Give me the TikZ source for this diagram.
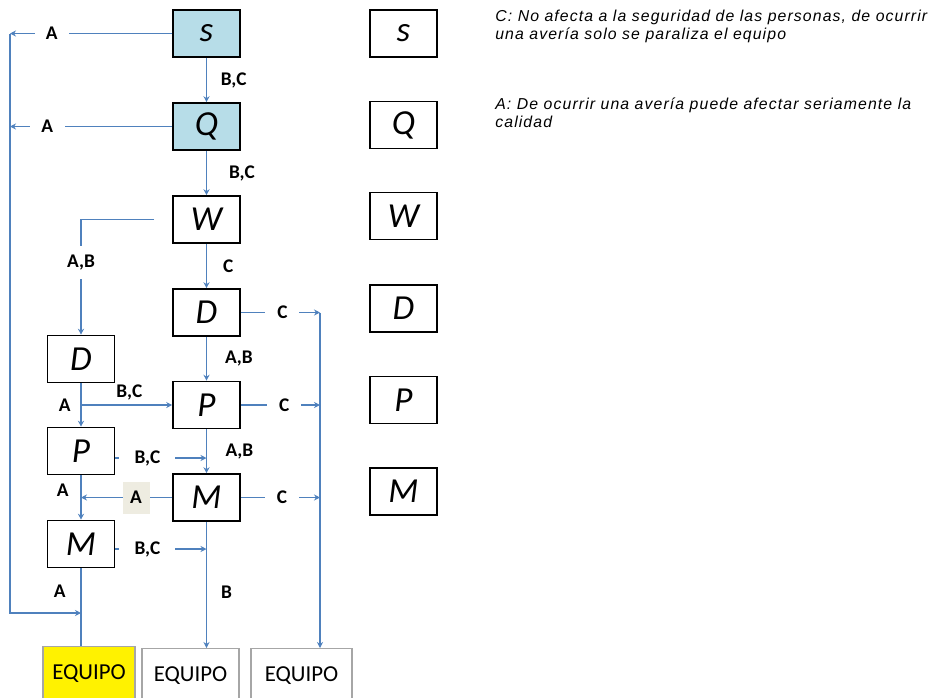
\documentclass[tikz,border=0pt]{standalone}
\usepackage{fontspec}
\setmainfont{Carlito}
\newfontfamily\legendfont{Liberation Sans}[LetterSpace=7]
\usetikzlibrary{arrows.meta,calc}

\definecolor{linkblue}{RGB}{79,129,189}
\definecolor{headfill}{RGB}{183,221,232}
\definecolor{tagfill}{RGB}{238,236,225}
\definecolor{framegray}{RGB}{166,166,166}

\tikzset{
  unitbox/.style={draw=black, line width=0.9pt, minimum width=1.34cm,
    minimum height=0.94cm, inner sep=0pt,
    font=\fontsize{20}{22}\selectfont\itshape},
  headbox/.style={unitbox, fill=headfill},
  outbox/.style={draw=framegray, line width=0.7pt, anchor=north,
    minimum height=1.06cm, inner sep=0pt, font=\fontsize{13}{15}\selectfont},
  link/.style={draw=linkblue, line width=0.85pt},
  flow/.style={link, -{Stealth[length=3.4pt,width=3.4pt]}},
  tag/.style={font=\fontsize{11}{12}\selectfont\bfseries, inner sep=1pt, text=black},
  gaptag/.style={tag, fill=white, minimum height=0.4cm},
  note/.style={anchor=north west, inner sep=0pt, align=left,
    font=\legendfont\itshape\fontsize{9}{10.2}\selectfont},
}

\begin{document}
\begin{tikzpicture}[x=0.02cm,y=-0.02cm]
\useasboundingbox (0,0) rectangle (937,697);

% main column
\node[headbox] (s)  at (206.5,33.5)  {s};
\node[headbox] (q)  at (206.5,126.5) {Q};
\node[unitbox] (w)  at (206.5,219.5) {W};
\node[unitbox] (dm) at (206.5,312.5) {D};
\node[unitbox] (pm) at (206.5,405)   {P};
\node[unitbox] (mm) at (206.5,497.5) {M};

% left column
\node[unitbox] (dl) at (81,359) {D};
\node[unitbox] (pl) at (81,451) {P};
\node[unitbox] (ml) at (81,544) {M};

% key column
\node[unitbox] (rs) at (403.5,33.5)  {s};
\node[unitbox] (rq) at (403.5,125)   {Q};
\node[unitbox] (rw) at (403.5,216)   {W};
\node[unitbox] (rd) at (403.5,308.5) {D};
\node[unitbox] (rp) at (403.5,400)   {P};
\node[unitbox] (rm) at (403.5,491.5) {M};

% equipment boxes
\node[outbox, fill=yellow, minimum width=1.84cm] (e1) at (89,646)    {EQUIPO};
\node[outbox, fill=white,  minimum width=1.94cm] (e2) at (190.5,648) {EQUIPO};
\node[outbox, fill=white,  minimum width=2.02cm] (e3) at (301.5,648) {EQUIPO};

% notes
\node[note] (noteC) at (495,10)
  {C: No afecta a la seguridad de las personas, de ocurrir\\una avería solo se paraliza el equipo};
\node[note] (noteA) at (495,98)
  {A: De ocurrir una avería puede afectar seriamente la\\calidad};

% junction points
\coordinate (rS)  at (10,33.5);
\coordinate (rQ)  at (10,126.5);
\coordinate (jR)  at (81,613);
\coordinate (r3)  at (320,312.5);
\coordinate (jP)  at (206.5,458);
\coordinate (jMl) at (206.5,549);
\coordinate (jD)  at (dl.south |- pm.west);
\coordinate (jM)  at (pl.south |- mm.west);

% main column flow
\draw[flow] (s.south) -- node[tag, anchor=west, xshift=0.235cm]{B,C} (q.north);
\draw[flow] (q.south) -- node[tag, anchor=west, xshift=0.4cm]{B,C} (w.north);
\draw[flow] (w.south) -- node[tag, anchor=west, xshift=0.28cm]{C} (dm.north);
\draw[flow] (dm.south) -- node[tag, anchor=west, xshift=0.32cm]{A,B} (pm.north);
\draw[flow] (pm.south) -- node[tag, anchor=west, xshift=0.33cm]{A,B} (mm.north);
\draw[flow] (mm.south) -- node[tag, anchor=west, xshift=0.24cm, pos=0.56]{B} (mm.south |- e2.north);

% left column flow
\draw[flow, shorten <=0.36cm] (w.west) -| node[gaptag, pos=0.687, minimum height=0.66cm]{A,B} (dl.north);
\draw[flow] (dl.south) -- node[tag, anchor=east, xshift=-0.16cm]{A} (pl.north);
\draw[flow] (pl.south) -- node[tag, anchor=east, xshift=-0.2cm, pos=0.33]{A} (ml.north);
\draw[link] (ml.south) -- node[tag, anchor=east, xshift=-0.26cm, pos=0.29]{A} (ml.south |- e1.north);

% cross links
\draw[flow] (jD) -- node[tag, above, yshift=1.5pt, pos=0.53]{B,C} (pm.west);
\draw[flow] (pl.east |- jP) -- node[gaptag, minimum width=1.12cm, pos=0.353]{B,C} (jP);
\draw[flow] (ml.east |- jMl) -- node[gaptag, minimum width=1.12cm, pos=0.353]{B,C} (jMl);
\draw[flow] (mm.west) -- node[tag, fill=tagfill, minimum width=0.54cm, minimum height=0.64cm, pos=0.397]{A} (jM);

% right rail
\draw[flow] (dm.east) -- node[gaptag, minimum width=0.68cm, pos=0.525]{C} (r3);
\draw[flow] (pm.east) -- node[gaptag, minimum width=0.68cm, pos=0.55]{C} (r3 |- pm.east);
\draw[flow] (mm.east) -- node[gaptag, minimum width=0.68cm, pos=0.52]{C} (r3 |- mm.east);
\draw[flow] (r3) -- (r3 |- e3.north);

% left rail
\draw[flow] (s.west) -- node[gaptag, minimum width=0.68cm, pos=0.742]{A} (rS);
\draw[flow] (q.west) -- node[gaptag, minimum width=0.7cm, pos=0.77]{A} (rQ);
\draw[flow] (rS) -- (rS |- jR) -- (jR);
\end{tikzpicture}
\end{document}
